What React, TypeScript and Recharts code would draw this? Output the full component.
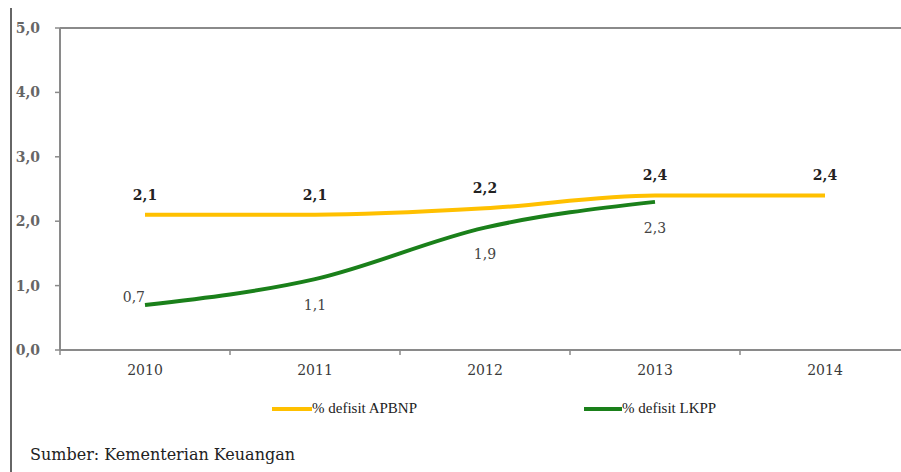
import React from 'react';
import { LineChart, Line, XAxis, YAxis, ReferenceLine, LabelList } from 'recharts';

const years = ['2010', '2011', '2012', '2013', '2014'];
const apbnp = [2.1, 2.1, 2.2, 2.4, 2.4];
const lkpp: (number | null)[] = [0.7, 1.1, 1.9, 2.3, null];
const yTicks = [0, 1, 2, 3, 4, 5];

const seriesNames = { apbnp: '% defisit APBNP', lkpp: '% defisit LKPP' };
const colors = { apbnp: '#FFC000', lkpp: '#1A801A', axis: '#8a8a8a' };

const data = years.map((year, i) => ({ year, apbnp: apbnp[i], lkpp: lkpp[i] }));

const serif = '"DejaVu Serif", Georgia, serif';
const fmt = (v: number) => v.toFixed(1).replace('.', ',');

function XTick(props: any) {
  const { x, y, payload } = props;
  const off = payload.offset || 0;
  return (
    <g>
      <line x1={x - off} y1={y - 8} x2={x - off} y2={y - 3} stroke={colors.axis} strokeWidth={1.5} />
      <text x={x} y={y + 17} textAnchor="middle" fontSize={14} fontFamily={serif} fill="#3a3a3a">
        {payload.value}
      </text>
    </g>
  );
}

function TopLabel(props: any) {
  const { x, y, value } = props;
  return (
    <text x={x} y={y - 15} textAnchor="middle" fontSize={14} fontWeight="bold" fontFamily={serif} fill="#222">
      {fmt(value)}
    </text>
  );
}

function BottomLabel(props: any) {
  const { x, y, value, index } = props;
  if (value == null) return null;
  if (index === 0) {
    return (
      <text x={x} y={y - 3} textAnchor="end" fontSize={14} fontFamily={serif} fill="#444">
        {fmt(value)}
      </text>
    );
  }
  return (
    <text x={x} y={y + 31} textAnchor="middle" fontSize={14} fontFamily={serif} fill="#444">
      {fmt(value)}
    </text>
  );
}

export default function App() {
  return (
    <div style={{ position: 'absolute', left: 0, top: 0, width: 901, height: 472, overflow: 'hidden', background: '#fff' }}>
      <div style={{ position: 'absolute', left: 10, top: 8, width: 2, height: 464, background: '#666' }} />
      <div style={{ position: 'absolute', left: 0, top: 0 }}>
        <LineChart width={920} height={380} data={data} margin={{ top: 28, right: 10, bottom: 0, left: 10 }}>
          <XAxis
            dataKey="year"
            scale="band"
            height={30}
            axisLine={{ stroke: colors.axis, strokeWidth: 2 }}
            tickLine={false}
            tick={<XTick />}
            interval={0}
          />
          <YAxis
            width={50}
            domain={[0, 5]}
            ticks={yTicks}
            tickFormatter={fmt}
            axisLine={{ stroke: colors.axis, strokeWidth: 2 }}
            tickLine={{ stroke: colors.axis, strokeWidth: 1.5 }}
            tickSize={5}
            tickMargin={15}
            tick={{ fontSize: 14, fontFamily: serif, fill: '#666', fontWeight: 'bold' }}
          />
          <ReferenceLine y={5} stroke={colors.axis} strokeWidth={2} />
          <Line
            type="monotone"
            dataKey="apbnp"
            name={seriesNames.apbnp}
            stroke={colors.apbnp}
            strokeWidth={4}
            dot={false}
            isAnimationActive={false}
          >
            <LabelList dataKey="apbnp" content={<TopLabel />} />
          </Line>
          <Line
            type="monotone"
            dataKey="lkpp"
            name={seriesNames.lkpp}
            stroke={colors.lkpp}
            strokeWidth={4}
            dot={false}
            isAnimationActive={false}
          >
            <LabelList dataKey="lkpp" content={<BottomLabel />} />
          </Line>
        </LineChart>
      </div>
      <div style={{ position: 'absolute', left: 272, top: 400, display: 'flex', alignItems: 'center', fontFamily: '"Liberation Serif", serif', fontSize: 15, color: '#222' }}>
        <span style={{ display: 'inline-block', width: 40, height: 4, background: colors.apbnp }} />
        <span>{seriesNames.apbnp}</span>
      </div>
      <div style={{ position: 'absolute', left: 584, top: 400, display: 'flex', alignItems: 'center', fontFamily: '"Liberation Serif", serif', fontSize: 15, color: '#222' }}>
        <span style={{ display: 'inline-block', width: 38, height: 4, background: colors.lkpp }} />
        <span>{seriesNames.lkpp}</span>
      </div>
      <div style={{ position: 'absolute', left: 30, top: 445, fontFamily: serif, fontSize: 16, color: '#222' }}>
        Sumber: Kementerian Keuangan
      </div>
    </div>
  );
}
